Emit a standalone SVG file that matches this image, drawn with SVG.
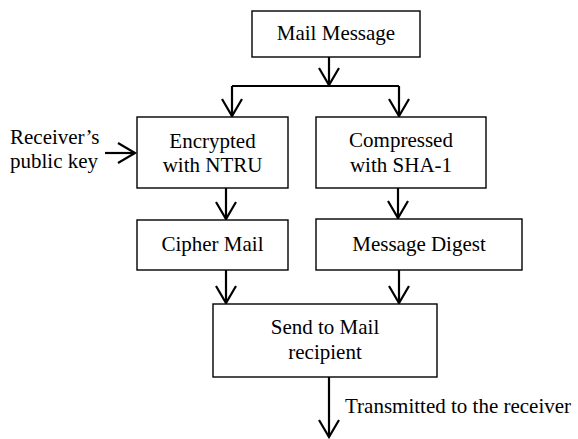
<svg xmlns="http://www.w3.org/2000/svg" width="578" height="439" viewBox="0 0 578 439">
<style>
.box{fill:#fff;stroke:#000;stroke-width:1.4}
.t{font-family:"Liberation Serif","DejaVu Serif","Times New Roman",serif;font-size:21px;fill:#000}
.c{text-anchor:middle}
.ln{fill:none;stroke:#000;stroke-width:2.2}
.arr{fill:none;stroke:#000;stroke-width:2.2;marker-end:url(#v)}
</style>
<defs>
<marker id="v" markerUnits="userSpaceOnUse" viewBox="-20 -12 22 24" refX="0" refY="0" markerWidth="22" markerHeight="24" orient="auto" overflow="visible">
<path d="M-17,-10 L0,0 L-17,10" fill="none" stroke="#000" stroke-width="2.2"/>
</marker>
</defs>
<rect width="578" height="439" fill="#fff"/>
<g id="connectors">
<path class="arr" d="M329,57 V85"/>
<path class="ln" d="M232,86 H399"/>
<path class="arr" d="M232,86 V116"/>
<path class="arr" d="M399,86 V116"/>
<path class="arr" d="M105,153 H135"/>
<path class="arr" d="M226,188 V219"/>
<path class="arr" d="M398,188 V218"/>
<path class="arr" d="M226,270 V303"/>
<path class="arr" d="M399,270 V303"/>
<path class="arr" d="M329,377 V437"/>
</g>
<g id="mail-message">
<rect class="box" x="252" y="11" width="168" height="46"/>
<text class="t c" x="336" y="40" font-family="Liberation Serif, serif">Mail Message</text>
</g>
<g id="encrypted">
<rect class="box" x="137" y="117" width="151" height="71"/>
<text class="t c" x="212.5" y="148" font-family="Liberation Serif, serif">Encrypted</text>
<text class="t c" x="212.5" y="172" font-family="Liberation Serif, serif">with NTRU</text>
</g>
<g id="compressed">
<rect class="box" x="316" y="117" width="170" height="71"/>
<text class="t c" x="401" y="147" font-family="Liberation Serif, serif">Compressed</text>
<text class="t c" x="401" y="172" font-family="Liberation Serif, serif">with SHA-1</text>
</g>
<g id="public-key">
<text class="t" x="10" y="144" font-family="Liberation Serif, serif">Receiver’s</text>
<text class="t" x="10" y="168" font-family="Liberation Serif, serif">public key</text>
</g>
<g id="cipher-mail">
<rect class="box" x="137" y="220" width="151" height="50"/>
<text class="t c" x="212.5" y="251" font-family="Liberation Serif, serif">Cipher Mail</text>
</g>
<g id="message-digest">
<rect class="box" x="316" y="219" width="206" height="51"/>
<text class="t c" x="419" y="251" font-family="Liberation Serif, serif">Message Digest</text>
</g>
<g id="send">
<rect class="box" x="213" y="304" width="224" height="73"/>
<text class="t c" x="325" y="334" font-family="Liberation Serif, serif">Send to Mail</text>
<text class="t c" x="325" y="359" font-family="Liberation Serif, serif">recipient</text>
</g>
<g id="transmitted">
<text class="t" x="345" y="413" font-family="Liberation Serif, serif">Transmitted to the receiver</text>
</g>
</svg>
